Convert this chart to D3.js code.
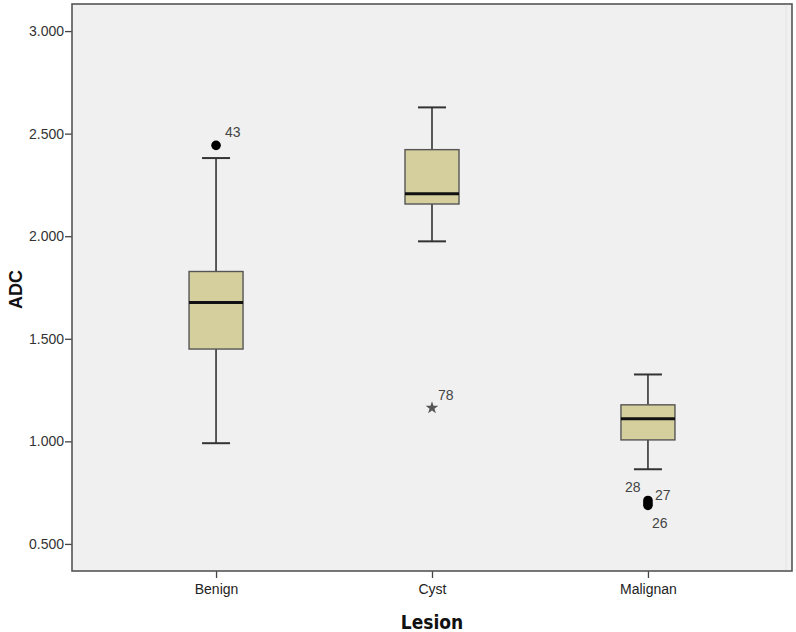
<!DOCTYPE html>
<html><head><meta charset="utf-8">
<script src="https://cdn.jsdelivr.net/npm/d3@7"></script>
<style>body{margin:0;background:#fff}svg{display:block}</style>
</head><body><div id="chart"></div>
<script>
const categories = ["Benign", "Cyst", "Malignan"];
const whiskerLow  = [0.991, 1.975, 0.864];
const q1          = [1.450, 2.157, 1.007];
const median      = [1.677, 2.207, 1.110];
const q3          = [1.828, 2.422, 1.178];
const whiskerHigh = [2.381, 2.628, 1.326];
// outliers
const outlierCat   = ["Benign", "Cyst", "Malignan", "Malignan", "Malignan"];
const outlierValue = [2.443, 1.163, 0.712, 0.700, 0.688];
const outlierLabel = ["43", "78", "28", "27", "26"];
const outlierType  = ["circle", "star", "circle", "circle", "circle"];
const yTicks = [0.5, 1.0, 1.5, 2.0, 2.5, 3.0];
const yDomain = [0.368, 3.132];

const W = 796, H = 632;
const L = 72, R = 792, T = 4, B = 571;
const svg = d3.select("#chart").append("svg").attr("width", W).attr("height", H);

const x = d3.scalePoint().domain(categories).range([L, R]).padding(0.667);
const y = d3.scaleLinear().domain(yDomain).range([B, T]);

svg.append("rect").attr("x", L).attr("y", T).attr("width", R - L).attr("height", B - T)
  .attr("fill", "#f0f0f0");
svg.append("line").attr("x1", R - 6).attr("x2", R - 6).attr("y1", T + 2).attr("y2", B)
  .attr("stroke", "#e2e2e2").attr("stroke-width", 1);

const fmt = d3.format(".3f");
const yAxis = svg.append("g").attr("transform", `translate(${L},0)`)
  .call(d3.axisLeft(y).tickValues(yTicks).tickFormat(fmt).tickSize(7).tickPadding(1));
yAxis.select(".domain").remove();
yAxis.selectAll("line").attr("stroke", "#444").attr("stroke-width", 1.3);
yAxis.selectAll("text").attr("font-family", "Liberation Sans, Arial, sans-serif")
  .attr("font-size", 14).attr("fill", "#333");

const xAxis = svg.append("g").attr("transform", `translate(0,${B})`)
  .call(d3.axisBottom(x).tickSize(7).tickPadding(6));
xAxis.select(".domain").remove();
xAxis.selectAll("line").attr("stroke", "#444").attr("stroke-width", 1.3);
xAxis.selectAll("text").attr("font-family", "Liberation Sans, Arial, sans-serif")
  .attr("font-size", 14).attr("fill", "#222");

svg.append("rect").attr("x", L).attr("y", T).attr("width", R - L).attr("height", B - T)
  .attr("fill", "none").attr("stroke", "#555").attr("stroke-width", 1.6);

const boxW = 54, capW = 28;
const data = categories.map((c, i) => ({c, lo: whiskerLow[i], q1: q1[i], med: median[i], q3: q3[i], hi: whiskerHigh[i]}));
const g = svg.append("g");
data.forEach(d => {
  const cx = x(d.c);
  g.append("line").attr("x1", cx).attr("x2", cx).attr("y1", y(d.hi)).attr("y2", y(d.q3)).attr("stroke", "#333").attr("stroke-width", 1.6);
  g.append("line").attr("x1", cx).attr("x2", cx).attr("y1", y(d.q1)).attr("y2", y(d.lo)).attr("stroke", "#333").attr("stroke-width", 1.6);
  [d.hi, d.lo].forEach(v => g.append("line").attr("x1", cx - capW / 2).attr("x2", cx + capW / 2)
    .attr("y1", y(v)).attr("y2", y(v)).attr("stroke", "#333").attr("stroke-width", 2));
  g.append("rect").attr("x", cx - boxW / 2).attr("y", y(d.q3)).attr("width", boxW).attr("height", y(d.q1) - y(d.q3))
    .attr("fill", "#d5cf9d").attr("stroke", "#555").attr("stroke-width", 1.4);
  g.append("line").attr("x1", cx - boxW / 2).attr("x2", cx + boxW / 2).attr("y1", y(d.med)).attr("y2", y(d.med))
    .attr("stroke", "#111").attr("stroke-width", 3);
});

const labelOff = {"43": [9, -13], "78": [6, -13], "28": [-23, -13], "27": [7, -8], "26": [4, 18]};
outlierCat.forEach((c, i) => {
  const cx = x(c), cy = y(outlierValue[i]);
  if (outlierType[i] === "circle") {
    g.append("circle").attr("cx", cx).attr("cy", cy).attr("r", 4.8).attr("fill", "#000");
  } else {
    g.append("path").attr("d", d3.symbol().type(d3.symbolStar).size(50)())
      .attr("transform", `translate(${cx},${cy})`).attr("fill", "#555");
  }
  const o = labelOff[outlierLabel[i]];
  g.append("text").attr("x", cx + o[0]).attr("y", cy + o[1]).attr("dy", "0.35em")
    .attr("font-family", "Liberation Sans, Arial, sans-serif").attr("font-size", 14).attr("fill", "#444")
    .text(outlierLabel[i]);
});

svg.append("text").attr("transform", `translate(22,${(T + B) / 2 + 2}) rotate(-90)`)
  .attr("text-anchor", "middle").attr("font-family", "Liberation Sans, Arial, sans-serif")
  .attr("font-weight", "bold").attr("font-size", 18).attr("fill", "#111").text("ADC");
svg.append("text").attr("x", x("Cyst")).attr("y", 629).attr("text-anchor", "middle")
  .attr("font-family", "DejaVu Sans Condensed, DejaVu Sans, sans-serif")
  .attr("font-weight", "bold").attr("font-size", 19).attr("fill", "#111").text("Lesion");
</script></body></html>
